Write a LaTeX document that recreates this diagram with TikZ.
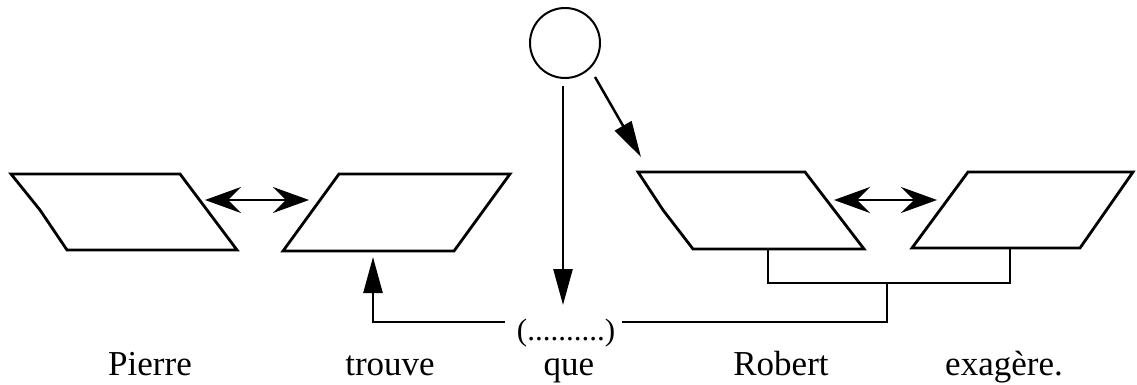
\documentclass[tikz,border=0pt]{standalone}
\usepackage{fontspec}
\setmainfont{Liberation Serif}
\usetikzlibrary{arrows.meta}
\tikzset{
  shapeline/.style={line width=2.8pt, line join=miter},
  bracketline/.style={line width=2pt},
  dblarrow/.style={line width=2pt, {Stealth[length=36pt,width=26pt,inset=13pt]}-{Stealth[length=36pt,width=26pt,inset=13pt]}},
  triarrow/.style={line width=2.5pt, -{Triangle[length=36pt,width=19pt]}},
  word/.style={font=\fontsize{35}{40}\selectfont, anchor=base, inner sep=0pt},
  gap/.style={font=\fontsize{31}{36}\selectfont, anchor=base, inner sep=0pt},
}
\begin{document}
\begin{tikzpicture}[x=1pt,y=-1pt]
\useasboundingbox (0,0) rectangle (1137,385);
% parallelograms
\draw[shapeline] (11,174) -- (180,174) -- (237,250) -- (67,250) -- (40,210) -- cycle;
\draw[shapeline] (339,174) -- (510,174) -- (454,251) -- (283,251) -- cycle;
\draw[shapeline] (638,172) -- (805,172) -- (864,249) -- (693,249) -- (663,210) -- cycle;
\draw[shapeline] (968,172) -- (1133,172) -- (1080,248) -- (912,248) -- cycle;
% named anchor points
\coordinate (p1r) at (205,200);
\coordinate (p2l) at (309,200);
\coordinate (p3r) at (834,200);
\coordinate (p4l) at (937,200);
\coordinate (p2b) at (373,257);
\coordinate (p3b) at (768,249);
\coordinate (p4b) at (1010,248);
\coordinate (p3t) at (641,157);
% circle
\node[circle, draw, line width=2pt, minimum size=70pt, inner sep=0pt] (c) at (565,43) {};
\coordinate (cb) at (563,86);
\coordinate (cd) at (595,77);
% gap label
\node[gap] (g) at (566,340) {(..........)};
\coordinate (gt) at (563,305);
\coordinate (gl) at (505,322);
\coordinate (gr) at (622,322);
\coordinate (jn) at (887,283);
% connectors
\draw[dblarrow] (p1r) -- (p2l);
\draw[dblarrow] (p3r) -- (p4l);
\draw[triarrow] (cb) -- (gt);
\draw[triarrow] (cd) -- (p3t);
\draw[triarrow] (gl) -| (p2b);
\draw[bracketline] (gr) -| (jn);
\draw[bracketline] (p3b) |- (jn) -| (p4b);
% words
\node[word] (w1) at (150,375) {Pierre};
\node[word] (w2) at (390,375) {trouve};
\node[word] (w3) at (569,375) {que};
\node[word] (w4) at (781,375) {Robert};
\node[word] (w5) at (1004,375) {exagère.};
\end{tikzpicture}
\end{document}
